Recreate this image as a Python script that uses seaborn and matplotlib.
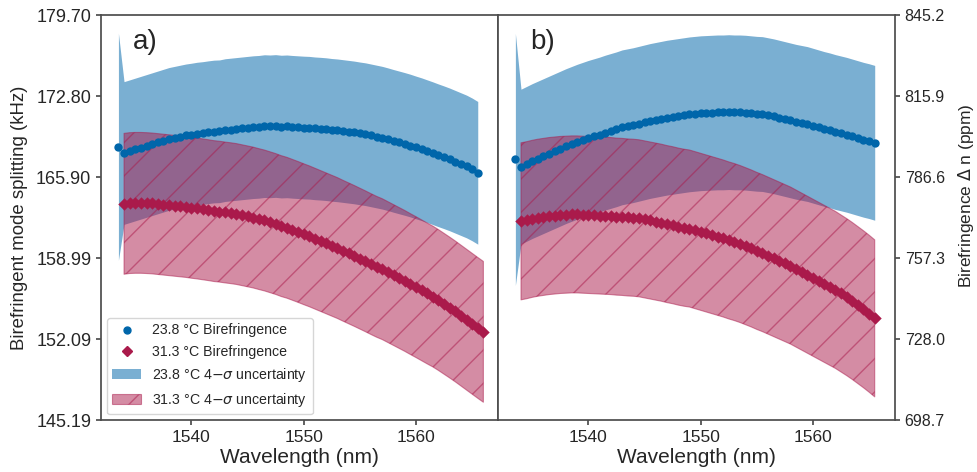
import matplotlib
matplotlib.use("Agg")

import matplotlib.pyplot as plt
import seaborn as sns
import numpy as np
import pandas as pd
from matplotlib.lines import Line2D
from matplotlib.patches import Patch

# Wavelength grids (nm)
wl_blue = [1533.5, 1534.0, 1534.5, 1535.0, 1535.5, 1536.0, 1536.5, 1537.0, 1537.5, 1538.0,
           1538.5, 1539.0, 1539.5, 1540.0, 1540.5, 1541.0, 1541.5, 1542.0, 1542.5, 1543.0,
           1543.5, 1544.0, 1544.5, 1545.0, 1545.5, 1546.0, 1546.5, 1547.0, 1547.5, 1548.0,
           1548.5, 1549.0, 1549.5, 1550.0, 1550.5, 1551.0, 1551.5, 1552.0, 1552.5, 1553.0,
           1553.5, 1554.0, 1554.5, 1555.0, 1555.5, 1556.0, 1556.5, 1557.0, 1557.5, 1558.0,
           1558.5, 1559.0, 1559.5, 1560.0, 1560.5, 1561.0, 1561.5, 1562.0, 1562.5, 1563.0,
           1563.5, 1564.0, 1564.5, 1565.0, 1565.5]
wl_red_a = [1534.0, 1534.5, 1535.0, 1535.5, 1536.0, 1536.5, 1537.0, 1537.5, 1538.0, 1538.5,
            1539.0, 1539.5, 1540.0, 1540.5, 1541.0, 1541.5, 1542.0, 1542.5, 1543.0, 1543.5,
            1544.0, 1544.5, 1545.0, 1545.5, 1546.0, 1546.5, 1547.0, 1547.5, 1548.0, 1548.5,
            1549.0, 1549.5, 1550.0, 1550.5, 1551.0, 1551.5, 1552.0, 1552.5, 1553.0, 1553.5,
            1554.0, 1554.5, 1555.0, 1555.5, 1556.0, 1556.5, 1557.0, 1557.5, 1558.0, 1558.5,
            1559.0, 1559.5, 1560.0, 1560.5, 1561.0, 1561.5, 1562.0, 1562.5, 1563.0, 1563.5,
            1564.0, 1564.5, 1565.0, 1565.5, 1566.0]
wl_red_b = wl_red_a[:-1]

# a) mode splitting (kHz)
split_23 = [168.48, 167.95, 168.10, 168.25, 168.40, 168.55, 168.70, 168.85, 169.00, 169.15,
            169.25, 169.35, 169.45, 169.52, 169.60, 169.65, 169.72, 169.78, 169.80, 169.90,
            169.95, 170.00, 170.05, 170.10, 170.15, 170.18, 170.24, 170.22, 170.25, 170.20,
            170.22, 170.18, 170.15, 170.12, 170.10, 170.05, 170.02, 169.98, 169.92, 169.88,
            169.82, 169.76, 169.70, 169.62, 169.55, 169.45, 169.35, 169.25, 169.12, 168.98,
            168.85, 168.72, 168.58, 168.42, 168.27, 168.10, 167.93, 167.75, 167.58, 167.40,
            167.20, 167.00, 166.80, 166.55, 166.26]
split_31 = [163.62, 163.68, 163.70, 163.70, 163.68, 163.65, 163.60, 163.55, 163.50, 163.45,
            163.40, 163.35, 163.28, 163.22, 163.15, 163.08, 163.00, 162.95, 162.88, 162.82,
            162.75, 162.65, 162.55, 162.45, 162.32, 162.20, 162.05, 161.90, 161.72, 161.58,
            161.40, 161.22, 161.03, 160.85, 160.65, 160.45, 160.25, 160.05, 159.85, 159.62,
            159.40, 159.18, 158.95, 158.72, 158.48, 158.25, 158.05, 157.80, 157.55, 157.30,
            157.05, 156.78, 156.52, 156.25, 155.98, 155.72, 155.42, 155.10, 154.78, 154.45,
            154.10, 153.75, 153.40, 153.05, 152.71]
sigma_split_23 = [2.42] + [1.52] * 64
sigma_split_31 = [1.50] * 65

# b) birefringence (ppm)
biref_23 = [793.0, 790.4, 791.4, 792.4, 793.3, 794.2, 795.1, 796.0, 796.9, 797.8,
            798.6, 799.4, 800.1, 800.8, 801.4, 802.0, 802.7, 803.3, 803.9, 804.6,
            805.0, 805.4, 805.9, 806.4, 806.9, 807.3, 807.7, 808.1, 808.4, 808.7,
            809.0, 809.3, 809.5, 809.7, 809.8, 809.9, 810.0, 810.0, 810.1, 810.0,
            810.0, 809.9, 809.7, 809.5, 809.4, 809.0, 808.6, 808.1, 807.6, 807.1,
            806.6, 806.2, 805.8, 805.2, 804.6, 804.0, 803.5, 802.9, 802.4, 801.9,
            801.3, 800.7, 800.1, 799.6, 799.0]
biref_31 = [770.6, 771.0, 771.5, 771.9, 772.2, 772.5, 772.7, 772.9, 773.0, 773.1,
            773.1, 773.0, 772.9, 772.8, 772.7, 772.6, 772.5, 772.3, 772.2, 772.0,
            771.9, 771.7, 771.3, 770.9, 770.5, 770.1, 769.6, 769.2, 768.7, 768.3,
            768.0, 767.4, 766.8, 766.2, 765.6, 765.0, 764.4, 763.7, 763.1, 762.4,
            761.6, 760.8, 759.9, 759.1, 758.2, 757.3, 756.4, 755.5, 754.6, 753.5,
            752.4, 751.3, 750.2, 749.1, 748.0, 746.9, 745.8, 744.5, 743.2, 741.8,
            740.3, 738.8, 737.2, 735.5]
sigma_biref_23 = [11.4] + [7.0] * 64
sigma_biref_31 = [7.1] * 64

split_ticks = [145.19, 152.09, 158.99, 165.90, 172.80, 179.70]
biref_ticks = [698.7, 728.0, 757.3, 786.6, 815.9, 845.2]
wl_ticks = [1540, 1550, 1560]

BLUE = "#0066aa"
RED = "#aa1a4b"

sns.set_theme(style="ticks")
plt.rcParams["font.family"] = ["Liberation Sans", "DejaVu Sans"]
plt.rcParams["mathtext.fontset"] = "dejavusans"

fig, (ax_a, ax_b) = plt.subplots(1, 2, figsize=(9.77, 4.72), dpi=100)
fig.subplots_adjust(left=0.1034, right=0.916, top=0.968, bottom=0.11, wspace=0)


def draw_panel(ax, wl23, y23, s23, wl31, y31, s31):
    # 4 sigma bands
    y23 = np.array(y23)
    y31 = np.array(y31)
    s23 = np.array(s23)
    s31 = np.array(s31)
    ax.fill_between(wl23, y23 - 4 * s23, y23 + 4 * s23,
                    facecolor=BLUE, alpha=0.52, linewidth=0)
    ax.fill_between(wl31, y31 - 4 * s31, y31 + 4 * s31,
                    facecolor=RED, edgecolor=RED, alpha=0.5,
                    hatch="/", linewidth=0.8)

    # measured points
    df23 = pd.DataFrame({"wl": wl23, "val": y23})
    df31 = pd.DataFrame({"wl": wl31, "val": y31})
    sns.scatterplot(data=df23, x="wl", y="val", ax=ax, color=BLUE,
                    marker="o", s=36, linewidth=0, legend=False)
    sns.scatterplot(data=df31, x="wl", y="val", ax=ax, color=RED,
                    marker="D", s=40, linewidth=0, legend=False)

    ax.set_xlim(1531.95, 1567.3)
    ax.set_xticks(wl_ticks)
    ax.set_xlabel("Wavelength (nm)", fontsize=15, labelpad=2)
    ax.tick_params(axis="x", labelsize=12.5, length=3.5, color="0.3")
    ax.tick_params(axis="y", length=3.5, color="0.3")
    for sp in ax.spines.values():
        sp.set_color("0.3")


draw_panel(ax_a, wl_blue, split_23, sigma_split_23, wl_red_a, split_31, sigma_split_31)
draw_panel(ax_b, wl_blue, biref_23, sigma_biref_23, wl_red_b, biref_31, sigma_biref_31)

# left panel axis
ax_a.set_ylim(split_ticks[0], split_ticks[-1])
ax_a.set_yticks(split_ticks)
ax_a.set_yticklabels([f"{t:.2f}" for t in split_ticks])
ax_a.tick_params(axis="y", labelsize=13)
ax_a.set_ylabel("Birefringent mode splitting (kHz)", fontsize=13.4, labelpad=6)

# right panel axis on the right
ax_b.set_ylim(biref_ticks[0], biref_ticks[-1])
ax_b.set_yticks(biref_ticks)
ax_b.set_yticklabels([f"{t:.1f}" for t in biref_ticks])
ax_b.yaxis.tick_right()
ax_b.yaxis.set_label_position("right")
ax_b.tick_params(axis="y", labelsize=11.5)
ax_b.set_ylabel("Birefringence $\\Delta$ n (ppm)", fontsize=12.5)
ax_b.yaxis.set_label_coords(1.155, 0.553)

ax_a.text(0.08, 0.965, "a)", transform=ax_a.transAxes, fontsize=20, va="top")
ax_b.text(0.08, 0.965, "b)", transform=ax_b.transAxes, fontsize=20, va="top")

# legend
handles = [
    Line2D([], [], marker="o", color=BLUE, linestyle="", markersize=5),
    Line2D([], [], marker="D", color=RED, linestyle="", markersize=5),
    Patch(facecolor=BLUE, alpha=0.52, linewidth=0),
    Patch(facecolor=RED, edgecolor=RED, alpha=0.5, hatch="/", linewidth=0.8),
]
labels = [
    "23.8 °C Birefringence",
    "31.3 °C Birefringence",
    "23.8 °C 4$-\\sigma$ uncertainty",
    "31.3 °C 4$-\\sigma$ uncertainty",
]
ax_a.legend(handles, labels, loc="lower left", fontsize=10.2, frameon=True,
            borderaxespad=0.4)

plt.savefig("out.png", dpi=100)
plt.close()
